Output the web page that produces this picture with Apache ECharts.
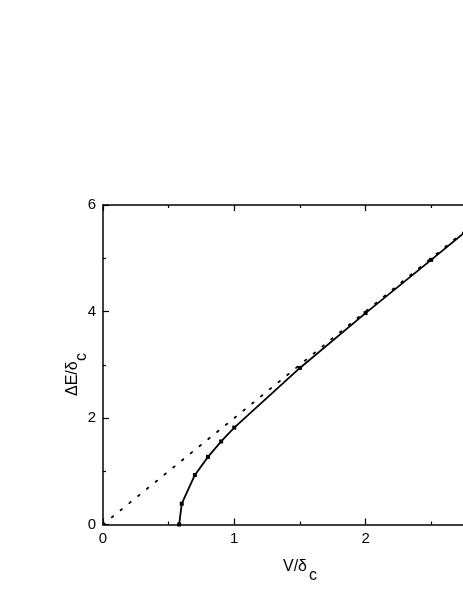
<!DOCTYPE html>
<html>
<head>
<meta charset="utf-8">
<script src="https://cdn.jsdelivr.net/npm/echarts@6/dist/echarts.min.js"></script>
<style>
  html, body { margin: 0; padding: 0; background: #fff; overflow: hidden; }
  /* the plot runs past the right edge of the window, as in the picture */
  #chart { width: 504px; height: 599px; }
</style>
</head>
<body>
<div id="chart"></div>
<script>
// solid curve
const solidV = [0.58, 0.6, 0.7, 0.8, 0.9, 1.0, 1.5, 2.0, 2.5, 3.0];
const solidE = [0, 0.39, 0.93, 1.27, 1.56, 1.82, 2.94, 3.97, 4.97, 5.98];
// dotted asymptote
const dotV = [0, 3];
const dotE = [0, 6];
const xTicks = [0, 1, 2, 3];
const yTicks = [0, 2, 4, 6];

const font = 'Liberation Sans, Arial, sans-serif';
const chart = echarts.init(document.getElementById('chart'));

const axisCommon = {
  type: 'value',
  axisLine: { show: true, onZero: false, lineStyle: { color: '#000', width: 1.5 } },
  axisTick: { show: true, inside: true, length: 6, lineStyle: { color: '#000', width: 1.2 } },
  minorTick: { show: true, splitNumber: 2, length: 3, lineStyle: { color: '#000', width: 1.2 } },
  splitLine: { show: false }
};

chart.setOption({
  animation: false,
  backgroundColor: '#fff',
  grid: { left: 103, top: 205, right: 0, bottom: 74.5, containLabel: false },
  xAxis: [
    Object.assign({}, axisCommon, {
      position: 'bottom',
      min: xTicks[0], max: xTicks[xTicks.length - 1], interval: 1,
      axisLabel: { color: '#000', fontSize: 15, fontFamily: font, margin: 7 }
    }),
    Object.assign({}, axisCommon, {
      position: 'top',
      min: xTicks[0], max: xTicks[xTicks.length - 1], interval: 1,
      axisLabel: { show: false }
    })
  ],
  yAxis: Object.assign({}, axisCommon, {
    min: yTicks[0], max: yTicks[yTicks.length - 1], interval: 2,
    axisLabel: { color: '#000', fontSize: 15, fontFamily: font, margin: 7 }
  }),
  series: [
    {
      type: 'line',
      data: dotV.map((v, i) => [v, dotE[i]]),
      showSymbol: false,
      lineStyle: { color: '#000', width: 1.8, type: [1.8, 9.5], cap: 'round' },
      z: 2
    },
    {
      type: 'line',
      data: solidV.map((v, i) => [v, solidE[i]]),
      symbol: 'rect',
      symbolSize: 4,
      itemStyle: { color: '#000' },
      lineStyle: { color: '#000', width: 1.8 },
      z: 3
    }
  ],
  graphic: [
    {
      type: 'group', x: 283, y: 567,
      children: [
        { type: 'text', x: 0, y: 0, style: { text: 'V/δ', font: '16px ' + font, fill: '#000', verticalAlign: 'middle', align: 'left' } },
        { type: 'text', x: 26, y: 9, style: { text: 'c', font: '16px ' + font, fill: '#000', verticalAlign: 'middle', align: 'left' } }
      ]
    },
    {
      type: 'group', x: 73, y: 396, rotation: Math.PI / 2,
      children: [
        { type: 'text', x: 0, y: 0, style: { text: 'ΔE/δ', font: '16px ' + font, fill: '#000', verticalAlign: 'middle', align: 'left' } },
        { type: 'text', x: 35, y: 9, style: { text: 'c', font: '16px ' + font, fill: '#000', verticalAlign: 'middle', align: 'left' } }
      ]
    }
  ]
});
</script>
</body>
</html>
